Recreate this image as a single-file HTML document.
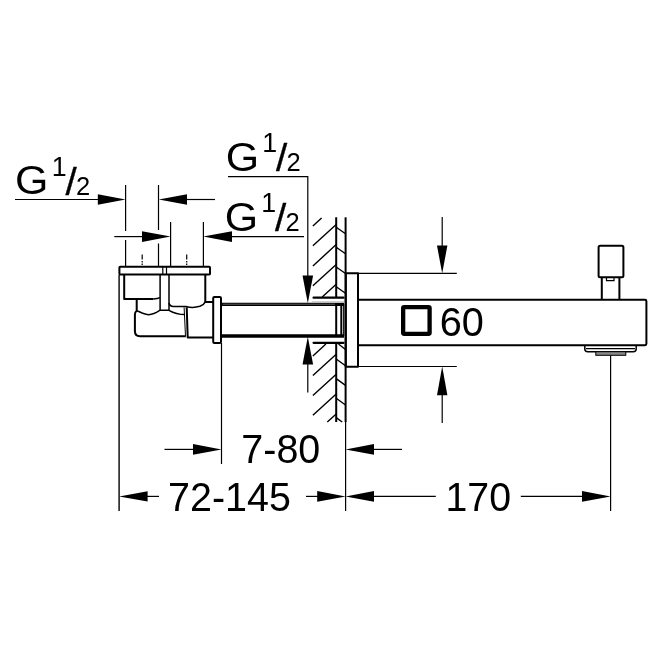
<!DOCTYPE html>
<html><head><meta charset="utf-8">
<style>
html,body{margin:0;padding:0;background:#fff;width:652px;height:652px;overflow:hidden}
svg{display:block;will-change:transform}
text{font-family:"Liberation Sans",sans-serif;fill:#000}
.t{stroke:#000;stroke-width:1.2;fill:none}
.h{stroke:#000;stroke-width:1.4;fill:none}
.m{stroke:#000;stroke-width:1.5;fill:none;stroke-linejoin:round}
.b{stroke:#000;stroke-width:2;fill:none;stroke-linejoin:round}
.a{fill:#000;stroke:none}
</style></head><body>
<svg width="652" height="652" viewBox="0 0 652 652">
<rect width="652" height="652" fill="#fff"/>

<!-- ===== TEXT ===== -->
<g id="labels">
<text transform="translate(15.0 194.3) scale(1.04 1)" font-size="41.3">G</text>
<text transform="translate(51.8 176.0)" font-size="26.8">1</text>
<text transform="translate(65.6 194.7) scale(0.99 0.945)" font-size="40.7" stroke="#000" stroke-width="0.35">/</text>
<text transform="translate(76.1 194.5)" font-size="25.5">2</text>

<text transform="translate(225.7 170.5) scale(1.04 1)" font-size="41.3">G</text>
<text transform="translate(262.3 152.0)" font-size="26.8">1</text>
<text transform="translate(276.1 170.7) scale(0.99 0.945)" font-size="40.7" stroke="#000" stroke-width="0.35">/</text>
<text transform="translate(286.6 170.5)" font-size="25.5">2</text>

<text transform="translate(224.7 230.7) scale(1.04 1)" font-size="41.3">G</text>
<text transform="translate(261.3 212.2)" font-size="26.8">1</text>
<text transform="translate(275.1 230.9) scale(0.99 0.945)" font-size="40.7" stroke="#000" stroke-width="0.35">/</text>
<text transform="translate(285.6 230.7)" font-size="25.5">2</text>

<text transform="translate(439.8 335.7) scale(0.975 1.01)" font-size="40.7">60</text>
<text transform="translate(241.3 463.3) scale(0.97 1)" font-size="40.7">7-80</text>
<text transform="translate(168 510.6) scale(0.97 1)" font-size="40.7">72-145</text>
<text transform="translate(445.5 510.6) scale(0.965 1)" font-size="40.7">170</text>
</g>

<!-- ===== DIMENSION LINES ===== -->
<g class="t">
<!-- top-left G1/2 -->
<path d="M15 199.5H100"/>
<path d="M185 199.5H215"/>
<path d="M125.6 185V231M125.6 240V266"/>
<path d="M158.5 185V230M158.5 243.5V266"/>
<path d="M170.6 222V266M203.4 222V266"/>
<path d="M114.3 236.6H144"/>
<path d="M230 236.6H304"/>
<path d="M142.2 254.5V259.6M142.2 261V262.4M142.2 263.6V265"/>
<path d="M186.7 254.5V259.6M186.7 261V262.4M186.7 263.6V265"/>
<!-- top G1/2 leader -->
<path d="M228 176.6H308.4M307.8 176V277"/>
<path d="M307.8 362V392.5"/>
<!-- long verticals -->
<path d="M119.1 275V511" stroke-width="1.4"/>
<path d="M221.5 343V464"/>
<path d="M345.6 421V511"/>
<path d="M610.6 355V511"/>
<!-- 7-80 -->
<path d="M164.5 449.4H195"/>
<path d="M372 449.4H402"/>
<!-- 72-145 / 170 -->
<path d="M146 496.4H159"/>
<path d="M306 496.4H319"/>
<path d="M372 496.4H435.8"/>
<path d="M520.8 496.4H584"/>
<!-- 60 -->
<path d="M358 273.3H456.8"/>
<path d="M358 366.5H456.8"/>
<path d="M442.2 217V247"/>
<path d="M442.2 394V423"/>
</g>

<!-- arrows -->
<g class="a">
<path d="M125.6 199.5L97.8 194.2V204.8Z"/>
<path d="M158.7 199.5L187 194.2V204.8Z"/>
<path d="M170.6 236.6L142 231.3V241.9Z"/>
<path d="M203.3 236.6L232 231.3V241.9Z"/>
<path d="M307.8 303.2L302.5 275.5H313.1Z"/>
<path d="M307.8 336.8L302.5 364.5H313.1Z"/>
<path d="M221.5 449.4L193 444.1V454.7Z"/>
<path d="M345.6 449.4L374 444.1V454.7Z"/>
<path d="M119.1 496.4L147.6 491.3V501.5Z"/>
<path d="M345.6 496.4L317.2 491.1V501.7Z"/>
<path d="M345.6 496.4L374 491.1V501.7Z"/>
<path d="M610.6 496.4L582 491.1V501.7Z"/>
<path d="M442.2 273.3L437 245.5H447.4Z"/>
<path d="M442.2 366.5L437 395.3H447.4Z"/>
</g>

<!-- ===== WALL / HATCH ===== -->
<g id="wall">
<g class="h">
<!-- main hatch upper -->
<path d="M321.6 218L312.9 226"/>
<path d="M336.2 224.5L312.9 245.8M336.2 244.6L312.9 265.9M336.2 264.4L312.9 285.7M336.2 284.2L322.2 297"/>
<!-- main hatch lower -->
<path d="M325.9 344L312.9 355.9"/>
<path d="M336.2 354.3L312.9 375.6M336.2 374.2L312.9 395.5M336.2 394L312.9 415.3M336.2 413.9L327.3 422"/>
<!-- small hatch upper -->
<path d="M336.2 227.3L345.5 233.8M336.2 247.2L345.5 253.7M336.2 267L345.5 273.5M336.2 286.8L345.5 293.3"/>
<!-- small hatch lower -->
<path d="M338.5 344L345.5 349.5M336.2 359L345.5 365.8M336.2 378.6L345.5 385.4M336.2 398.2L345.5 405M336.2 417.6L342.2 422"/>
</g>
<path class="b" d="M336.2 217.3V297M336.2 343V422"/>
<path class="b" d="M345.6 217.3V422"/>
<path d="M313.6 297.7H343.5M313.6 342.8H343.5" stroke="#000" stroke-width="2.3" fill="none" stroke-linecap="round"/>
</g>

<!-- ===== PIPE ===== -->
<g id="pipe">
<path d="M221.5 304.4H344" stroke="#000" stroke-width="3.1" fill="none"/>
<path d="M221.5 335.9H344" stroke="#000" stroke-width="3.5" fill="none"/>
<path d="M222.5 304.2H335" stroke="#777" stroke-width="0.8" fill="none"/>
<path d="M312 301.6H344" stroke="#bbb" stroke-width="0.8" fill="none"/>
<path class="b" d="M336.2 304V336"/>
<path class="b" d="M341.3 304.5V335.5"/>
<path class="t" d="M343.7 304V336"/>
<rect class="b" x="213.2" y="297" width="7.8" height="46" rx="1.2" fill="#fff"/>
</g>

<!-- ===== SPOUT ===== -->
<g id="spout">
<rect class="b" x="345.8" y="273.3" width="12.2" height="93.5" fill="#fff"/>
<path class="b" d="M358.3 299.8H645Q646.4 299.8 646.4 301.2V343.8Q646.4 345.2 645 345.2H358.3"/>
<rect x="403.15" y="307.15" width="26.45" height="26.7" rx="1" fill="none" stroke="#000" stroke-width="4.3"/>
<!-- diverter knob -->
<rect class="b" x="598.6" y="245.8" width="24.8" height="31.4" rx="1.5"/>
<path class="b" d="M601.8 278V299.5M619.4 278V299.5"/>
<path class="t" d="M606.5 278V280.6H614V278"/>
<!-- aerator -->
<path class="m" d="M584.8 345V349Q584.8 351.7 587.8 351.7H633.2Q636.2 351.7 636.2 349V345"/>
<path class="t" d="M586 348.6H635"/>
<rect x="595.8" y="351.7" width="30" height="3.6" fill="#888" stroke="#000" stroke-width="1"/>
</g>

<!-- ===== ELBOW FITTING ===== -->
<g id="elbow">
<rect class="b" x="119.4" y="266.7" width="90.6" height="7.8" rx="0.8" fill="#fff"/>
<path class="t" d="M162.8 267V274.5M166.5 267V274.5"/>
<!-- left cup -->
<path class="b" d="M124.2 275V299H153.5"/>
<path class="m" d="M153.5 299Q157.5 298.6 160.1 297.6"/>
<path class="m" d="M160.1 275V310.3H169V275"/>
<!-- right cup -->
<path class="m" d="M169 303Q169.6 306.4 173.5 306.5H186Q193 308.4 199.8 306.3Q204 304.8 205.3 301.7"/>
<path class="b" d="M205.3 275V301.9H213"/>
<!-- neck + body -->
<path class="b" d="M136.7 299V310.7Q134.9 312 134.9 314.5V331Q134.9 336.2 140 336.2H185.8"/>
<path class="m" d="M136.7 310.7C141 312.4 145 314.7 148.7 314.7C153 314.7 157 312.3 160.1 310.2"/>
<path class="m" d="M169 310.3C172 312 177.5 314.5 184.8 314.6"/>
<!-- nut -->
<path d="M184.1 307.3L185.5 336.2" stroke="#000" stroke-width="1" fill="none"/>
<path class="b" d="M186.7 307.3L187.7 337.5H213"/>
</g>
</svg>
</body></html>
